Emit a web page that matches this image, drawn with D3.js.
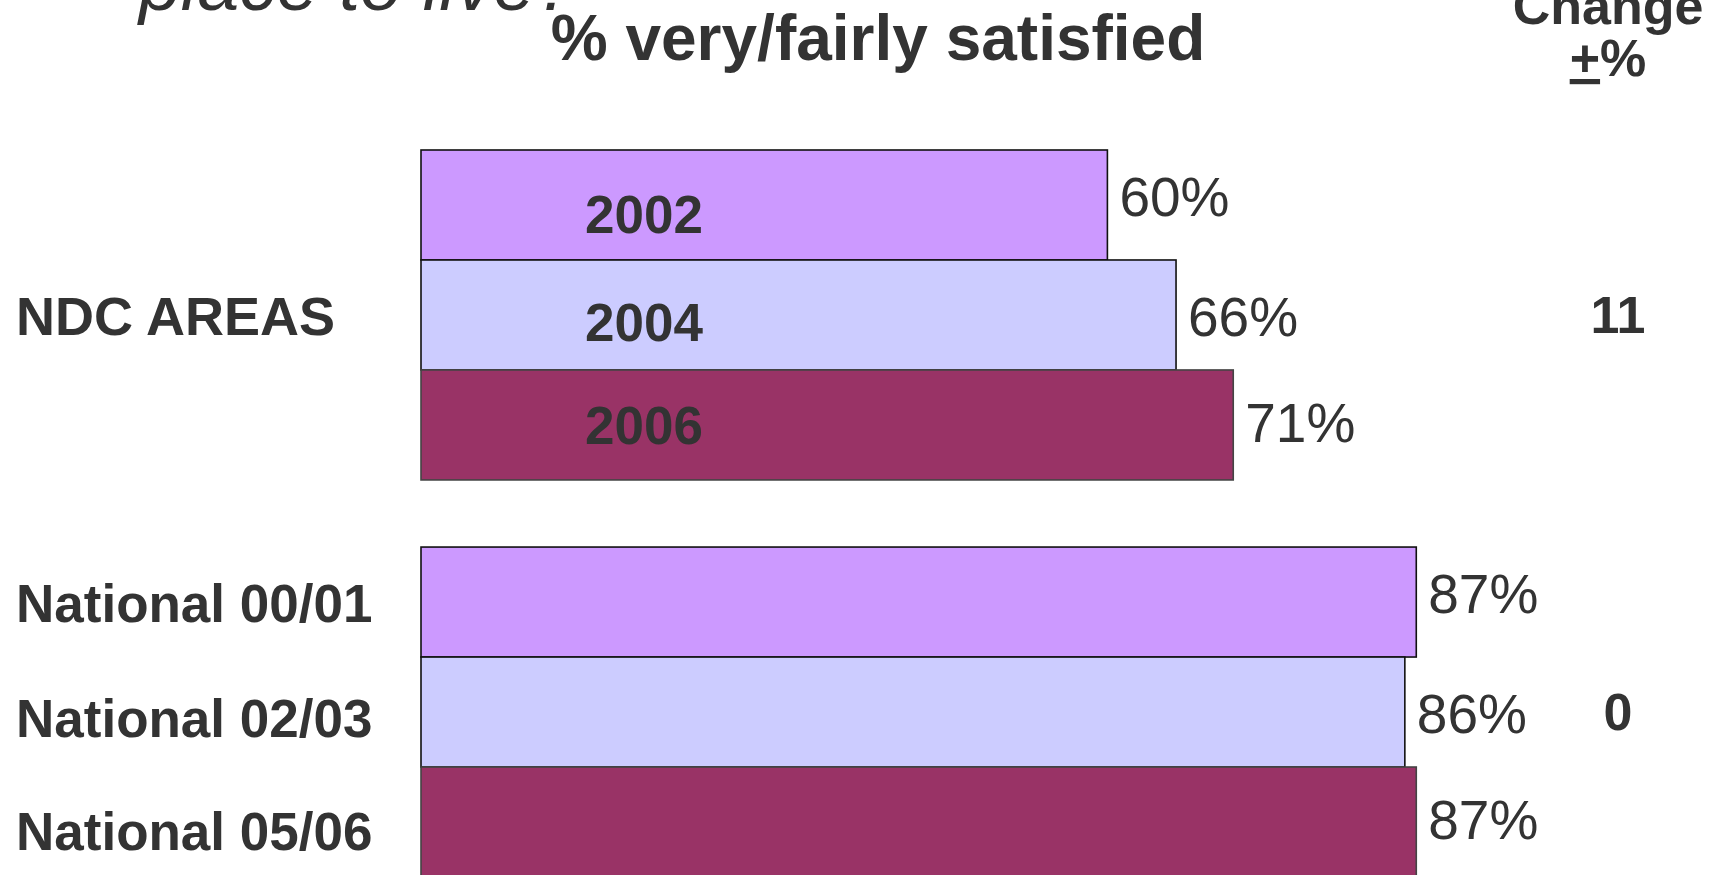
<!DOCTYPE html>
<html>
<head>
<meta charset="utf-8">
<script src="https://cdn.jsdelivr.net/npm/d3@7"></script>
<style>
  html, body { margin: 0; padding: 0; background: #ffffff; overflow: hidden; }
  svg { display: block; font-family: "Liberation Sans", Arial, sans-serif; }
</style>
</head>
<body>
<svg id="chart" width="1710" height="875"></svg>
<script>
// ---- data ----
const groups = ["NDC AREAS", "National"];
const ndcYears = ["2002", "2004", "2006"];
const ndcValues = [60, 66, 71];
const nationalLabels = ["National 00/01", "National 02/03", "National 05/06"];
const nationalValues = [87, 86, 87];
const changeValues = [11, 0];
const changeHeader = ["Change", "%"];
const titleLines = ["place to live?", "% very/fairly satisfied"];

// ---- styles ----
const textColor = "#333333";
const rowFill = ["#cc99ff", "#ccccff", "#993366"];
const rowStroke = ["#111111", "#111111", "#444444"];
// small per-row baseline shifts for the text sitting on each row
const valueShift = [11, 21, 17];
const yearShift = [28, 26, 19];
const labelShift = [20, 25, 28];

const svg = d3.select("#chart");

const x = d3.scaleLinear().domain([0, 100]).range([421, 1565]);
const yGroup = d3.scaleBand().domain(groups).range([150, 877]).paddingInner(0.169).paddingOuter(0);
const yRow = d3.scaleBand().domain([0, 1, 2]).range([0, yGroup.bandwidth()]).padding(0);

const rows = [
  ...ndcValues.map((v, i) => ({ group: groups[0], i, value: v, year: ndcYears[i] })),
  ...nationalValues.map((v, i) => ({ group: groups[1], i, value: v, label: nationalLabels[i] }))
];
const rowTop = d => yGroup(d.group) + yRow(d.i);
const rowMid = d => rowTop(d) + yRow.bandwidth() / 2;

// titles
svg.append("text")
  .attr("x", 358).attr("y", 10)
  .attr("text-anchor", "middle")
  .attr("font-size", 75).attr("font-style", "italic")
  .attr("fill", textColor)
  .text(titleLines[0]);

svg.append("text")
  .attr("x", 878).attr("y", 60)
  .attr("text-anchor", "middle")
  .attr("font-size", 64).attr("font-weight", "bold")
  .attr("fill", textColor)
  .text(titleLines[1]);

// change column header
svg.append("text")
  .attr("x", 1608).attr("y", 24)
  .attr("text-anchor", "middle")
  .attr("font-size", 52).attr("font-weight", "bold")
  .attr("fill", textColor)
  .text(changeHeader[0]);

const pm = svg.append("text")
  .attr("x", 1608).attr("y", 76)
  .attr("text-anchor", "middle")
  .attr("font-size", 52).attr("font-weight", "bold")
  .attr("fill", textColor);
pm.append("tspan").attr("text-decoration", "underline").text("+");
pm.append("tspan").text(changeHeader[1]);

// bars
svg.append("g").selectAll("rect")
  .data(rows)
  .join("rect")
  .attr("x", x(0))
  .attr("y", rowTop)
  .attr("width", d => x(d.value) - x(0))
  .attr("height", yRow.bandwidth())
  .attr("fill", d => rowFill[d.i])
  .attr("stroke", d => rowStroke[d.i])
  .attr("stroke-width", 1.6);

// year labels inside the NDC bars
svg.append("g").selectAll("text")
  .data(rows.filter(d => d.year))
  .join("text")
  .attr("x", 644)
  .attr("y", d => rowMid(d) + yearShift[d.i])
  .attr("text-anchor", "middle")
  .attr("font-size", 53).attr("font-weight", "bold")
  .attr("fill", textColor)
  .text(d => d.year);

// value labels
svg.append("g").selectAll("text")
  .data(rows)
  .join("text")
  .attr("x", d => x(d.value) + 12)
  .attr("y", d => rowMid(d) + valueShift[d.i])
  .attr("font-size", 55)
  .attr("fill", textColor)
  .text(d => d.value + "%");

// row / group labels on the left
svg.append("text")
  .attr("x", 16)
  .attr("y", yGroup(groups[0]) + yGroup.bandwidth() / 2 + 20)
  .attr("font-size", 54).attr("font-weight", "bold")
  .attr("fill", textColor)
  .text(groups[0]);

svg.append("g").selectAll("text")
  .data(rows.filter(d => d.label))
  .join("text")
  .attr("x", 16)
  .attr("y", d => rowMid(d) + labelShift[d.i])
  .attr("font-size", 53).attr("font-weight", "bold")
  .attr("fill", textColor)
  .text(d => d.label);

// change values per group
svg.append("g").selectAll("text")
  .data(groups)
  .join("text")
  .attr("x", 1618)
  .attr("y", g => yGroup(g) + yGroup.bandwidth() / 2 + 18)
  .attr("text-anchor", "middle")
  .attr("font-size", 52).attr("font-weight", "bold")
  .attr("fill", textColor)
  .text((g, i) => changeValues[i]);
</script>
</body>
</html>
